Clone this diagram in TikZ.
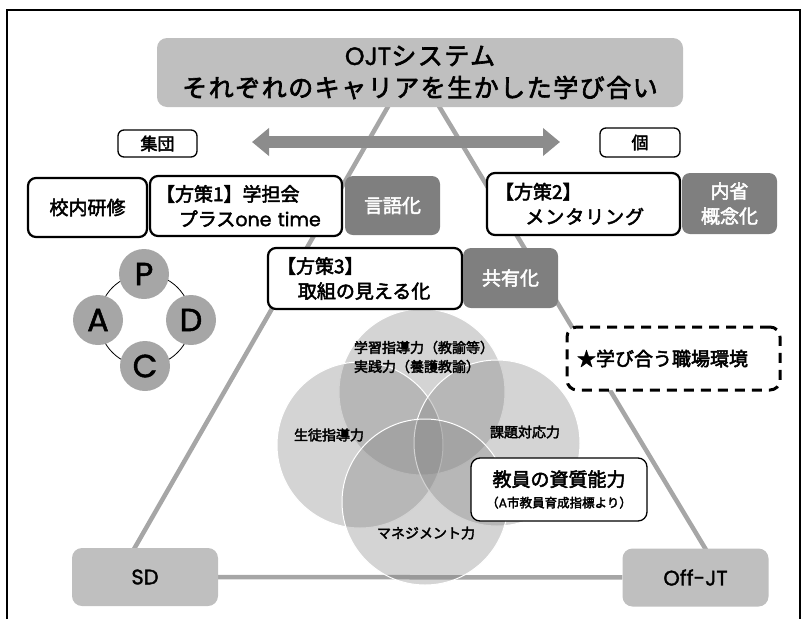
\documentclass[tikz,border=0pt]{standalone}
\usepackage{fontspec}
\setmainfont{Noto Sans CJK JP}[FakeBold=2.6]
\newfontfamily\lat{Poppins}[FakeBold=1.6]
\usetikzlibrary{arrows.meta}
\pgfdeclarelayer{bg}
\pgfsetlayers{bg,main}
\definecolor{lg}{HTML}{BFBFBF}
\definecolor{dg}{HTML}{7F7F7F}
\definecolor{ln}{HTML}{A6A6A6}
\definecolor{arc}{HTML}{8C8C8C}
\begin{document}
\begin{tikzpicture}[x=1pt,y=-1pt,
  every node/.style={inner sep=0pt},
  wbox/.style={draw=black, line width=2.2pt, rounded corners=8pt, fill=white, font=\fontsize{19}{25}\selectfont},
  sbox/.style={draw=black, line width=1.3pt, rounded corners=6pt, fill=white},
  dbox/.style={fill=dg, text=white, rounded corners=8pt, align=center, font=\fontsize{19}{25}\selectfont},
  gbox/.style={fill=lg, rounded corners=10pt},
  tri/.style={draw=ln, line width=4.5pt},
  pdca/.style={circle, fill=ln, minimum size=50pt, font=\lat\fontsize{32}{32}\selectfont},
  venn/.style={circle, minimum size=166pt, fill=black!50, fill opacity=0.34, draw=white, line width=1pt},
  vlab/.style={font=\fontsize{14}{19}\selectfont}
]
\useasboundingbox (0,0) rectangle (806,619);
\draw[line width=1.5pt] (7,619) -- (7,10) -- (800,10) -- (800,619);

% Venn circles
\node[venn] (v1) at (422,392) {};
\node[venn] (v2) at (360,445) {};
\node[venn] (v3) at (497,443) {};
\node[venn] (v4) at (425,502) {};
\node[vlab, align=left] (vt) at (424,357) {学習指導力（教諭等）\\実践力（養護教諭）};
\node[vlab] (vl) at (329,435) {生徒指導力};
\node[vlab] (vr) at (525,432) {課題対応力};
\node[vlab] (vb) at (426,533) {マネジメント力};

% title
\node[gbox, minimum width=526pt, minimum height=69pt, align=center, font=\fontsize{25}{32}\selectfont\addfontfeature{LetterSpace=6}] (title) at (420,72.5) {{\lat OJT}システム\\それぞれのキャリアを生かした学び合い};

% arrow
\coordinate (al) at (252,142);
\coordinate (ar) at (560,142);
\draw[arc, line width=12pt, {Triangle[length=17pt,width=27pt]}-{Triangle[length=17pt,width=27pt]}] (al) -- (ar);

\node[sbox, minimum width=79pt, minimum height=27pt, font=\fontsize{17}{20}\selectfont] (grp) at (157.5,143.5) {集団};
\node[sbox, minimum width=80pt, minimum height=29pt, font=\fontsize{17}{20}\selectfont] (ind) at (640,142.5) {個};

\node[wbox, minimum width=119pt, minimum height=59pt] (kounai) at (87.5,207.5) {校内研修};
\node[wbox, text width=180pt, inner xsep=6pt, minimum height=60pt, align=left] (s1) at (246,206) {【方策1】学担会\\\hspace*{1.2em}プラス{\lat one time}};
\node[dbox, minimum width=95pt, minimum height=59pt] (gengo) at (392.5,205.5) {言語化};
\node[wbox, text width=177pt, inner xsep=8pt, minimum height=62pt, align=left] (s2) at (583.5,204) {【方策2】\\\hspace*{1.6em}{\addfontfeature{LetterSpace=5}メンタリング}};
\node[dbox, minimum width=95pt, minimum height=61pt] (naisei) at (729.5,203.5) {内省\\概念化};
\node[wbox, text width=176pt, inner xsep=9pt, minimum height=61pt, align=left] (s3) at (365,278.5) {【方策3】\\\hspace*{1.1em}取組の見える化};
\node[dbox, minimum width=95pt, minimum height=60pt] (kyoyu) at (510.5,278) {共有化};

% PDCA
\node[circle, draw=black, line width=0.8pt, minimum size=92pt] (ring) at (145,320) {};
\node[pdca] (p) at (144,274) {P};
\node[pdca] (a) at (98,320) {A};
\node[pdca] (d) at (191,320) {D};
\node[pdca] (c) at (145,366) {C};

% workplace
\node[draw=black, line width=3pt, dash pattern=on 10pt off 7pt, rounded corners=10pt, fill=white, minimum height=63pt, text width=193pt, inner xsep=10pt, align=left, font=\fontsize{19}{24}\selectfont] (env) at (673.5,358.5) {★学び合う職場環境};

% competence
\node[sbox, rounded corners=9pt, minimum width=176pt, minimum height=63pt, align=center, font=\fontsize{19}{21}\selectfont] (shi) at (559,489.5) {教員の資質能力\\{\fontsize{12.5}{16}\selectfont （{\lat A}市教員育成指標より）}};

% SD / Off-JT
\node[gbox, minimum width=146pt, minimum height=58pt, font=\lat\fontsize{21}{24}\selectfont] (sd) at (145,577) {SD};
\node[gbox, minimum width=146pt, minimum height=58pt, font=\lat\fontsize{21}{24}\selectfont] (offjt) at (695.5,577.5) {Off-JT};

\begin{pgfonlayer}{bg}
\coordinate (apex) at (413,63);
\coordinate (tl) at (126,563);
\coordinate (tr) at (714,563);
\draw[tri] (tl) -- (apex) -- (tr);
\draw[tri] (sd) -- (offjt);
\end{pgfonlayer}
\end{tikzpicture}
\end{document}
